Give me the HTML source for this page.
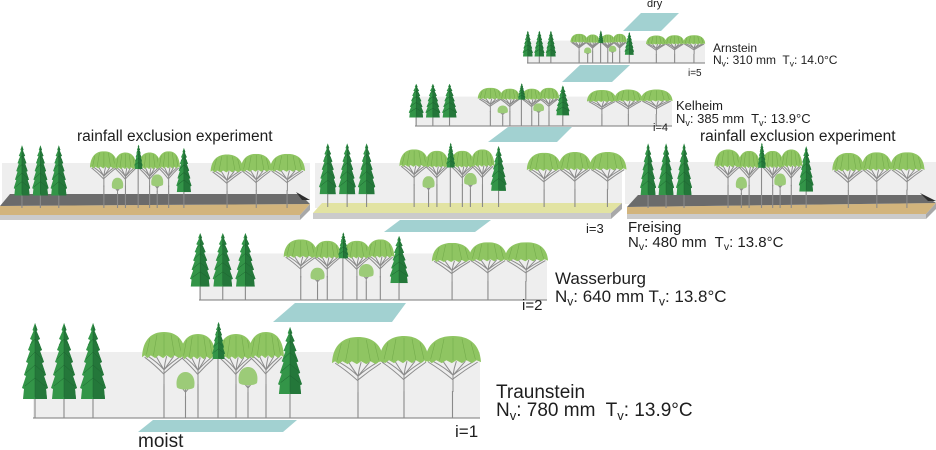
<!DOCTYPE html>
<html><head><meta charset="utf-8"><style>
html,body{margin:0;padding:0;background:#fff;}
svg{display:block;}
text{font-family:"Liberation Sans",Arial,sans-serif;fill:#1e1e1e;white-space:pre;}
</style></head><body>
<svg width="936" height="450" viewBox="0 0 936 450" xmlns="http://www.w3.org/2000/svg" xml:space="preserve">
<defs>
<symbol id="con" viewBox="0 0 26 76" preserveAspectRatio="none">
 <polygon points="13,0 10.5,7 11.5,8 8,16 10,17 6,27 8,28 4,39 6,40 2,52 4,53 0,65 2,66 1,76 25,76 24,66 26,65 22,53 24,52 20,40 22,39 18,28 20,27 16,17 18,16 14.5,8 15.5,7" fill="#339548"/>
 <polygon points="13,0 15.5,7 14.5,8 18,16 16,17 20,27 18,28 22,39 20,40 24,52 22,53 26,65 24,66 25,76 13,76" fill="#24773a"/>
 <path d="M13,4 L13,74 M13,16 L8,22 M13,16 L18,22 M13,29 L6,36 M13,29 L20,36 M13,42 L4,50 M13,42 L22,50 M13,55 L3,63 M13,55 L23,63" stroke="#1d6430" stroke-width="0.5" fill="none" vector-effect="non-scaling-stroke"/>
</symbol>
<symbol id="umb" viewBox="0 0 50 60" preserveAspectRatio="none">
 <path d="M25,60 L25,42 M25,42 Q18,34 7,27 M25,42 Q20,34 16,27 M25,42 Q26,34 28,27 M25,42 Q31,34 36,27 M25,42 Q33,34 44,27 M25,47 Q14,36 3,28 M25,46 Q36,36 47,28" stroke="#8c8c8c" stroke-width="1" fill="none" vector-effect="non-scaling-stroke"/>
 <path d="M0,28 C1,8 11,0 25,0 C39,0 49,8 50,28 L46,26 L42,29 L37,26 L33,29 L28,26 L24,29 L19,26 L15,29 L10,26 L6,29 L3,26 Z" fill="#8fc562"/>
 <path d="M25,2 L25,26 M17,3 L13,26 M33,3 L37,26 M9,7 L5,25 M41,7 L45,25" stroke="#74ac4c" stroke-width="0.6" fill="none" vector-effect="non-scaling-stroke"/>
</symbol>
<symbol id="sm" viewBox="0 0 22 26" preserveAspectRatio="none">
 <path d="M11,26 L11,14 M11,21 L6,15 M11,21 L16,15" stroke="#8c8c8c" stroke-width="1" fill="none" vector-effect="non-scaling-stroke"/>
 <path d="M2,16 C0,6 5,0 11,0 C17,0 22,6 20,16 C17,19 5,19 2,16 Z" fill="#9ccb78"/>
</symbol>
<g id="forest">
 <path d="M13,-22V0 M42,-22V0 M71,-22V0 M142,-34V0 M176,-34V0 M196,-62V0 M214,-34V0 M244,-34V0 M268,-30V0 M163.5,-22V0 M226,-26V0 M336,-26V0 M382,-27V0 M430.5,-27V0" stroke="#8a8a8a" stroke-width="1.1" fill="none" vector-effect="non-scaling-stroke"/>
 <use href="#umb" x="120" y="-86" width="44" height="54"/>
 <use href="#umb" x="158" y="-84" width="36" height="52"/>
 <use href="#umb" x="196" y="-84" width="36" height="52"/>
 <use href="#umb" x="226" y="-86" width="36" height="54"/>
 <use href="#umb" x="310" y="-81" width="52" height="56"/>
 <use href="#umb" x="357" y="-82" width="50" height="56"/>
 <use href="#umb" x="403" y="-82" width="56" height="56"/>
 <use href="#con" x="0" y="-95" width="26" height="76"/>
 <use href="#con" x="29" y="-95" width="26" height="76"/>
 <use href="#con" x="58" y="-95" width="26" height="76"/>
 <use href="#con" x="190" y="-96" width="13" height="37"/>
 <use href="#con" x="256" y="-91" width="24" height="67"/>
 <use href="#sm" x="153" y="-46" width="21" height="25"/>
 <use href="#sm" x="215" y="-51" width="22" height="26"/>
</g>
</defs>

<!-- teal parallelograms -->
<g fill="#a2d1d1">
 <polygon points="641,13 679,13 661,31 623,31"/>
 <polygon points="580,65 630,65 612,82 562,82"/>
 <polygon points="508,127 572,127 557,142 488,142"/>
 <polygon points="400,220 491,220 475,232 384,232"/>
 <polygon points="295,303 406,303 392,322 273,322"/>
 <polygon points="153,420 297,420 283,432 138,432"/>
</g>

<!-- panel backgrounds -->
<g fill="#eeeeee">
 <rect x="527" y="40.6" width="178" height="22.4"/>
 <rect x="415" y="96.6" width="257" height="29.4"/>
 <rect x="2" y="163" width="308" height="42"/>
 <rect x="315" y="163" width="307" height="45"/>
 <rect x="625" y="162" width="311" height="42"/>
 <rect x="199" y="253.5" width="348" height="46.5"/>
 <rect x="33" y="352" width="447" height="66"/>
</g>

<!-- ground lines -->
<g stroke="#7a7a7a" stroke-width="1">
 <line x1="527" y1="63" x2="705" y2="63"/>
 <line x1="415" y1="126" x2="672" y2="126"/>
 <line x1="199" y1="300" x2="547" y2="300"/>
 <line x1="33" y1="418" x2="480" y2="418"/>
</g>

<!-- left slab -->
<polygon points="0,206 310,204 300,215 0,215" fill="#d2b47c"/>
<polygon points="10,194 300,194 310,204 0,206" fill="#6b6b6b"/>
<polygon points="296,192 310,200 302,200" fill="#2d2d2d"/>
<rect x="0" y="215" width="300" height="5" fill="#cbcbcb"/>
<polygon points="300,215 310,204 310,210 300,220" fill="#a8a8a8"/>

<!-- middle slab -->
<polygon points="322,203 622,203 611,213 313,213" fill="#e2e3a2"/>
<rect x="313" y="213" width="298" height="6" fill="#cbcbcb"/>
<polygon points="611,213 622,203 622,209 611,219" fill="#a8a8a8"/>

<!-- right slab -->
<polygon points="627,207 936,203 926,214 627,214" fill="#d2b47c"/>
<polygon points="638,195 924,195 936,203 627,207" fill="#6b6b6b"/>
<polygon points="920,193 936,201 928,201" fill="#2d2d2d"/>
<rect x="627" y="214" width="299" height="5" fill="#cbcbcb"/>
<polygon points="926,214 936,203 936,209 926,219" fill="#a8a8a8"/>

<!-- forests -->
<use href="#forest" transform="translate(522.6,63) scale(0.398,0.34)"/>
<use href="#forest" transform="translate(408.7,126) scale(0.575,0.445)"/>
<use href="#forest" transform="translate(13.7,208) scale(0.635,0.66)"/>
<use href="#forest" transform="translate(319,207) scale(0.67,0.67)"/>
<use href="#forest" transform="translate(640,208) scale(0.62,0.68)"/>
<use href="#forest" transform="translate(190,300) scale(0.78,0.705)"/>
<use href="#forest" transform="translate(22,418)"/>

<!-- labels -->
<text x="647" y="7" font-size="11">dry</text>

<text x="713" y="52" font-size="12">Arnstein</text>
<text x="713" y="64" font-size="12">N<tspan font-size="8.5" dy="2.5">v</tspan><tspan dy="-2.5">: 310 mm  T</tspan><tspan font-size="8.5" dy="2.5">v</tspan><tspan dy="-2.5">: 14.0°C</tspan></text>
<text x="688" y="76" font-size="10">i=5</text>

<text x="676" y="110" font-size="13">Kelheim</text>
<text x="676" y="123" font-size="13">N<tspan font-size="9" dy="3">v</tspan><tspan dy="-3">: 385 mm  T</tspan><tspan font-size="9" dy="3">v</tspan><tspan dy="-3">: 13.9°C</tspan></text>
<text x="653" y="131" font-size="11">i=4</text>

<text x="77" y="141" font-size="15.5">rainfall exclusion experiment</text>
<text x="700" y="141" font-size="15.5">rainfall exclusion experiment</text>

<text x="586" y="233" font-size="13">i=3</text>
<text x="628" y="232" font-size="15">Freising</text>
<text x="628" y="247" font-size="15">N<tspan font-size="10.5" dy="3">v</tspan><tspan dy="-3">: 480 mm  T</tspan><tspan font-size="10.5" dy="3">v</tspan><tspan dy="-3">: 13.8°C</tspan></text>

<text x="555" y="284" font-size="17">Wasserburg</text>
<text x="555" y="302" font-size="17">N<tspan font-size="12" dy="3.5">v</tspan><tspan dy="-3.5">: 640 mm T</tspan><tspan font-size="12" dy="3.5">v</tspan><tspan dy="-3.5">: 13.8°C</tspan></text>
<text x="522" y="310" font-size="15">i=2</text>

<text x="496" y="398" font-size="19">Traunstein</text>
<text x="496" y="416" font-size="19">N<tspan font-size="13" dy="4">v</tspan><tspan dy="-4">: 780 mm  T</tspan><tspan font-size="13" dy="4">v</tspan><tspan dy="-4">: 13.9°C</tspan></text>
<text x="455" y="437" font-size="17">i=1</text>
<text x="138" y="447" font-size="19">moist</text>
</svg>
</body></html>
